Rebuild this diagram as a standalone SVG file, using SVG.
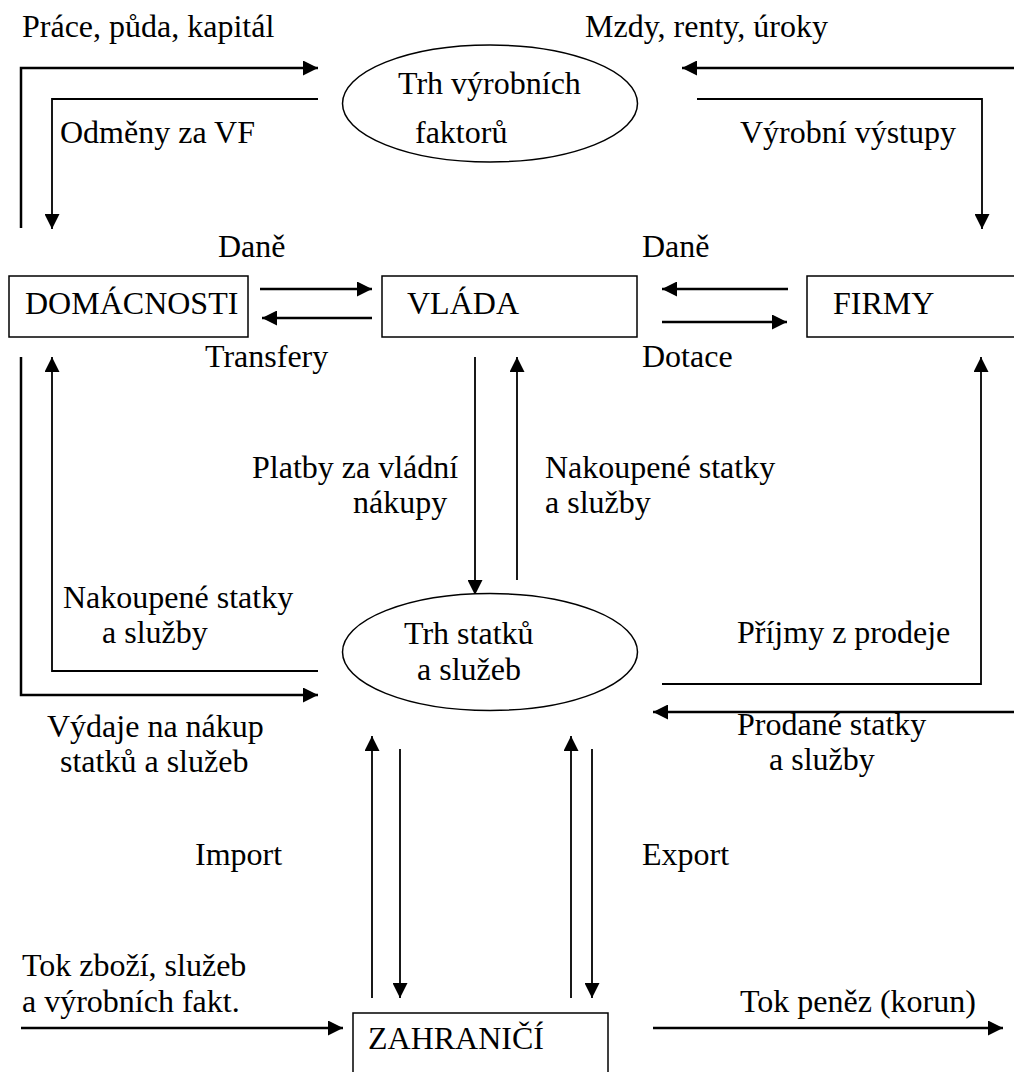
<svg xmlns="http://www.w3.org/2000/svg" width="1014" height="1072" viewBox="0 0 1014 1072">
<style>
.t{font-family:'Liberation Serif','Times New Roman',Times,serif;font-size:32px;fill:#000}
.box{fill:#fff;stroke:#000;stroke-width:1.5}
.ell{fill:#fff;stroke:#000;stroke-width:1.5}
.thick{fill:none;stroke:#000;stroke-width:2.5}
.thin{fill:none;stroke:#000;stroke-width:1.8}
</style>
<defs>
<marker id="ah" markerUnits="userSpaceOnUse" markerWidth="15" markerHeight="15" refX="15" refY="7.5" orient="auto">
<path d="M0,0 L15,7.5 L0,15 z" fill="#000"/>
</marker>
</defs>
<rect width="1014" height="1072" fill="#fff"/>
<g id="connectors">
<path class="thick" d="M21,228 V68 H318" marker-end="url(#ah)"/>
<path class="thin" d="M318,99 H52 V229" marker-end="url(#ah)"/>
<path class="thick" d="M1014,68 H682" marker-end="url(#ah)"/>
<path class="thin" d="M697,99 H982 V229" marker-end="url(#ah)"/>
<path class="thick" d="M260,289 H372" marker-end="url(#ah)"/>
<path class="thick" d="M372,318 H262" marker-end="url(#ah)"/>
<path class="thick" d="M788,289 H662" marker-end="url(#ah)"/>
<path class="thick" d="M662,322 H787" marker-end="url(#ah)"/>
<path class="thick" d="M21,357 V695 H318" marker-end="url(#ah)"/>
<path class="thin" d="M318,671 H52 V357" marker-end="url(#ah)"/>
<path class="thin" d="M475,357 V595" marker-end="url(#ah)"/>
<path class="thin" d="M517,580 V357" marker-end="url(#ah)"/>
<path class="thin" d="M662,684 H981 V357" marker-end="url(#ah)"/>
<path class="thick" d="M1014,712 H653" marker-end="url(#ah)"/>
<path class="thin" d="M372,998 V736" marker-end="url(#ah)"/>
<path class="thin" d="M400,749 V998" marker-end="url(#ah)"/>
<path class="thin" d="M571,998 V736" marker-end="url(#ah)"/>
<path class="thin" d="M592,749 V998" marker-end="url(#ah)"/>
<path class="thick" d="M21,1028 H343" marker-end="url(#ah)"/>
<path class="thick" d="M653,1028 H1003" marker-end="url(#ah)"/>
</g>
<g font-family="Liberation Serif, Times New Roman, serif" font-size="32">
<g id="trh-vyrobnich-faktoru">
<ellipse class="ell" cx="490" cy="103.5" rx="147.5" ry="58.5"/>
<text class="t" x="398" y="94">Trh výrobních</text>
<text class="t" x="415" y="143">faktorů</text>
</g>
<g id="domacnosti">
<rect class="box" x="9" y="276" width="239" height="61"/>
<text class="t" x="25" y="314">DOMÁCNOSTI</text>
</g>
<g id="vlada">
<rect class="box" x="382" y="276" width="255" height="61"/>
<text class="t" x="407" y="314">VLÁDA</text>
</g>
<g id="firmy">
<rect class="box" x="807" y="276" width="220" height="61"/>
<text class="t" x="833" y="314">FIRMY</text>
</g>
<g id="trh-statku-a-sluzeb">
<ellipse class="ell" cx="490" cy="652" rx="147.5" ry="58.5"/>
<text class="t" x="404" y="644">Trh statků</text>
<text class="t" x="417" y="680">a služeb</text>
</g>
<g id="zahranici">
<rect class="box" x="353" y="1013" width="255" height="80"/>
<text class="t" x="368" y="1049">ZAHRANIČÍ</text>
</g>
<g id="labels">
<text class="t" x="22" y="37">Práce, půda, kapitál</text>
<text class="t" x="585" y="37">Mzdy, renty, úroky</text>
<text class="t" x="60" y="143">Odměny za VF</text>
<text class="t" x="740" y="143">Výrobní výstupy</text>
<text class="t" x="218" y="257">Daně</text>
<text class="t" x="642" y="257">Daně</text>
<text class="t" x="205" y="367">Transfery</text>
<text class="t" x="642" y="367">Dotace</text>
<text class="t" x="252" y="478">Platby za vládní</text>
<text class="t" x="353" y="513">nákupy</text>
<text class="t" x="545" y="478">Nakoupené statky</text>
<text class="t" x="545" y="513">a služby</text>
<text class="t" x="63" y="608">Nakoupené statky</text>
<text class="t" x="102" y="643">a služby</text>
<text class="t" x="737" y="643">Příjmy z prodeje</text>
<text class="t" x="47" y="737">Výdaje na nákup</text>
<text class="t" x="60" y="772">statků a služeb</text>
<text class="t" x="737" y="735">Prodané statky</text>
<text class="t" x="769" y="770">a služby</text>
<text class="t" x="195" y="865">Import</text>
<text class="t" x="642" y="865">Export</text>
<text class="t" x="22" y="976">Tok zboží, služeb</text>
<text class="t" x="22" y="1012">a výrobních fakt.</text>
<text class="t" x="740" y="1012">Tok peněz (korun)</text>
</g>
</g>
</svg>
